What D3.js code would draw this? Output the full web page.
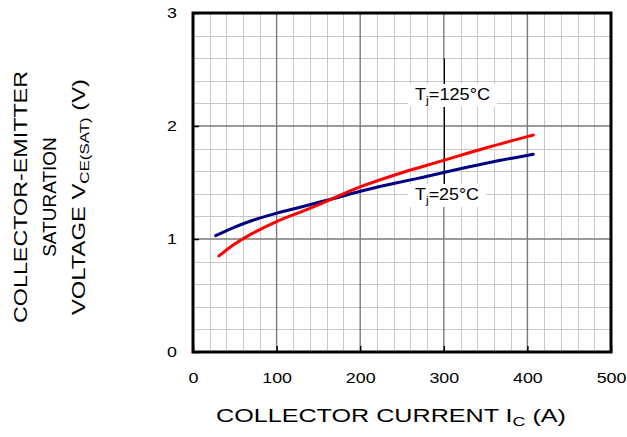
<!DOCTYPE html>
<html>
<head>
<meta charset="utf-8">
<script src="https://cdn.jsdelivr.net/npm/d3@7"></script>
<style>
  body { margin: 0; background: #fff; }
  svg { display: block; font-family: "Liberation Sans", Arial, sans-serif; }
</style>
</head>
<body>
<div id="chart"></div>
<script>
// collector current (A) and V_CE(sat) (V)
var current25 = [27, 48, 68, 100, 128, 150, 175, 200, 248, 272, 300, 351, 407]
var vce25 = [1.03, 1.1, 1.16, 1.23, 1.28, 1.325, 1.37, 1.425, 1.505, 1.54, 1.59, 1.675, 1.75]

var current125 = [31, 48, 68, 100, 128, 150, 175, 200, 248, 272, 300, 351, 407]
var vce125 = [0.85, 0.95, 1.04, 1.16, 1.235, 1.30, 1.385, 1.465, 1.585, 1.635, 1.695, 1.81, 1.92]

var xTicks = [0, 100, 200, 300, 400, 500]
var yTicks = [0, 1, 2, 3]

var W = 627, H = 437
var pLeft = 193, pRight = 611, pTop = 13, pBottom = 352

var svg = d3
  .select("#chart")
  .append("svg")
  .attr("width", W)
  .attr("height", H)

var x = d3.scaleLinear().domain([0, 500]).range([pLeft, pRight])
var y = d3.scaleLinear().domain([0, 3]).range([pBottom, pTop])

// the source font is a bit wider than Arial, stretch text sideways
function stretch(sel, k) {
  sel.each(function() {
    var len = this.getComputedTextLength()
    d3.select(this).attr("textLength", len * k).attr("lengthAdjust", "spacingAndGlyphs")
  })
}

/* ------- GRID -------*/
var minorX = d3.range(0, 501, 20).filter(function(d) { return d % 100 !== 0 })
var minorY = d3.range(0, 16).map(function(i) { return i * 0.2 }).filter(function(d) {
  return Math.abs(d - Math.round(d)) > 0.01
})

var grid = svg.append("g").attr("class", "grid")

grid.selectAll("line.mx")
  .data(minorX)
  .enter()
  .append("line")
  .attr("x1", function(d) { return Math.round(x(d)) + 0.5 })
  .attr("x2", function(d) { return Math.round(x(d)) + 0.5 })
  .attr("y1", pTop)
  .attr("y2", pBottom)
  .attr("stroke", "#c8c8c8")

grid.selectAll("line.my")
  .data(minorY)
  .enter()
  .append("line")
  .attr("y1", function(d) { return Math.round(y(d)) + 0.5 })
  .attr("y2", function(d) { return Math.round(y(d)) + 0.5 })
  .attr("x1", pLeft)
  .attr("x2", pRight)
  .attr("stroke", "#c8c8c8")

grid.selectAll("line.Mx")
  .data(xTicks.slice(1, -1))
  .enter()
  .append("line")
  .attr("x1", function(d) { return x(d) })
  .attr("x2", function(d) { return x(d) })
  .attr("y1", pTop)
  .attr("y2", pBottom)
  .attr("stroke", "#7a7a7a")
  .attr("stroke-width", 1.4)

grid.selectAll("line.My")
  .data(yTicks.slice(1, -1))
  .enter()
  .append("line")
  .attr("y1", function(d) { return y(d) })
  .attr("y2", function(d) { return y(d) })
  .attr("x1", pLeft)
  .attr("x2", pRight)
  .attr("stroke", "#7a7a7a")
  .attr("stroke-width", 1.4)

/* ------- AXES -------*/
var xAxis = svg.append("g")
  .attr("transform", "translate(0," + pBottom + ")")
  .call(d3.axisBottom(x).tickValues(xTicks).tickSize(-6).tickPadding(20))

var yAxis = svg.append("g")
  .attr("transform", "translate(" + pLeft + ",0)")
  .call(d3.axisLeft(y).tickValues(yTicks).tickFormat(d3.format("d")).tickSize(-6).tickPadding(16))

;[xAxis, yAxis].forEach(function(a) {
  a.select(".domain").remove()
  a.selectAll(".tick line").attr("stroke", "#000").attr("stroke-width", 1.5)
  a.selectAll(".tick text")
    .attr("font-size", 15.5)
    .attr("font-family", "Liberation Sans, Arial, sans-serif")
    .attr("fill", "#000")
    .call(stretch, 1.15)
})

/* ------- LEADER LINE -------*/
svg.append("line")
  .attr("x1", Math.round(x(300)) + 0.5)
  .attr("x2", Math.round(x(300)) + 0.5)
  .attr("y1", y(2.6))
  .attr("y2", y(1.35))
  .attr("stroke", "#000")

/* ------- CURVES -------*/
var line = d3.line()
  .x(function(d) { return x(d[0]) })
  .y(function(d) { return y(d[1]) })
  .curve(d3.curveBasis)

var series = [
  { name: "25", pts: d3.zip(current25, vce25), color: "#000080" },
  { name: "125", pts: d3.zip(current125, vce125), color: "#ff0000" }
]

svg.append("g")
  .selectAll("path")
  .data(series)
  .enter()
  .append("path")
  .attr("d", function(d) { return line(d.pts) })
  .attr("fill", "none")
  .attr("stroke", function(d) { return d.color })
  .attr("stroke-width", 3)
  .attr("stroke-linecap", "round")

/* ------- LABELS -------*/
function tjLabel(x0, base, temp, width) {
  var g = svg.append("g")
  var bg = g.append("rect").attr("fill", "#fff")
  var t = g.append("text")
    .attr("x", x0)
    .attr("y", base)
    .attr("font-size", 16.5)
    .attr("fill", "#000")
    .attr("textLength", width)
    .attr("lengthAdjust", "spacingAndGlyphs")
  t.append("tspan").text("T")
  t.append("tspan").text("j").attr("font-size", 11.5).attr("dy", 4)
  t.append("tspan").text("=" + temp + "°C").attr("dy", -4)
  var b = t.node().getBBox()
  bg.attr("x", b.x - 7).attr("y", b.y - 1).attr("width", b.width + 14).attr("height", b.height + 2)
}

tjLabel(415, 100, "125", 75)
tjLabel(415, 200, "25", 64)

/* ------- FRAME -------*/
svg.append("rect")
  .attr("x", pLeft)
  .attr("y", pTop)
  .attr("width", pRight - pLeft)
  .attr("height", pBottom - pTop)
  .attr("fill", "none")
  .attr("stroke", "#000")
  .attr("stroke-width", 3)

/* ------- TITLES -------*/
var xt = svg.append("text")
  .attr("x", 216)
  .attr("y", 422)
  .attr("font-size", 19)
  .attr("fill", "#000")
  .attr("textLength", 350)
  .attr("lengthAdjust", "spacingAndGlyphs")
xt.append("tspan").text("COLLECTOR CURRENT I")
xt.append("tspan").text("C").attr("font-size", 13.5).attr("dy", 4)
xt.append("tspan").text(" (A)").attr("dy", -4)

var yt = svg.append("g").attr("transform", "translate(0,197) rotate(-90)")
yt.append("text").attr("x", 0).attr("y", 27).attr("text-anchor", "middle")
  .attr("font-size", 19).attr("textLength", 252).attr("lengthAdjust", "spacingAndGlyphs")
  .text("COLLECTOR-EMITTER")
yt.append("text").attr("x", 0).attr("y", 56).attr("text-anchor", "middle")
  .attr("font-size", 19)
  .text("SATURATION")
var v = yt.append("text").attr("x", 0).attr("y", 85).attr("text-anchor", "middle")
  .attr("font-size", 19).attr("textLength", 236).attr("lengthAdjust", "spacingAndGlyphs")
v.append("tspan").text("VOLTAGE V")
v.append("tspan").text("CE(SAT)").attr("font-size", 13.5).attr("dy", 4)
v.append("tspan").text(" (V)").attr("dy", -4)
</script>
</body>
</html>
